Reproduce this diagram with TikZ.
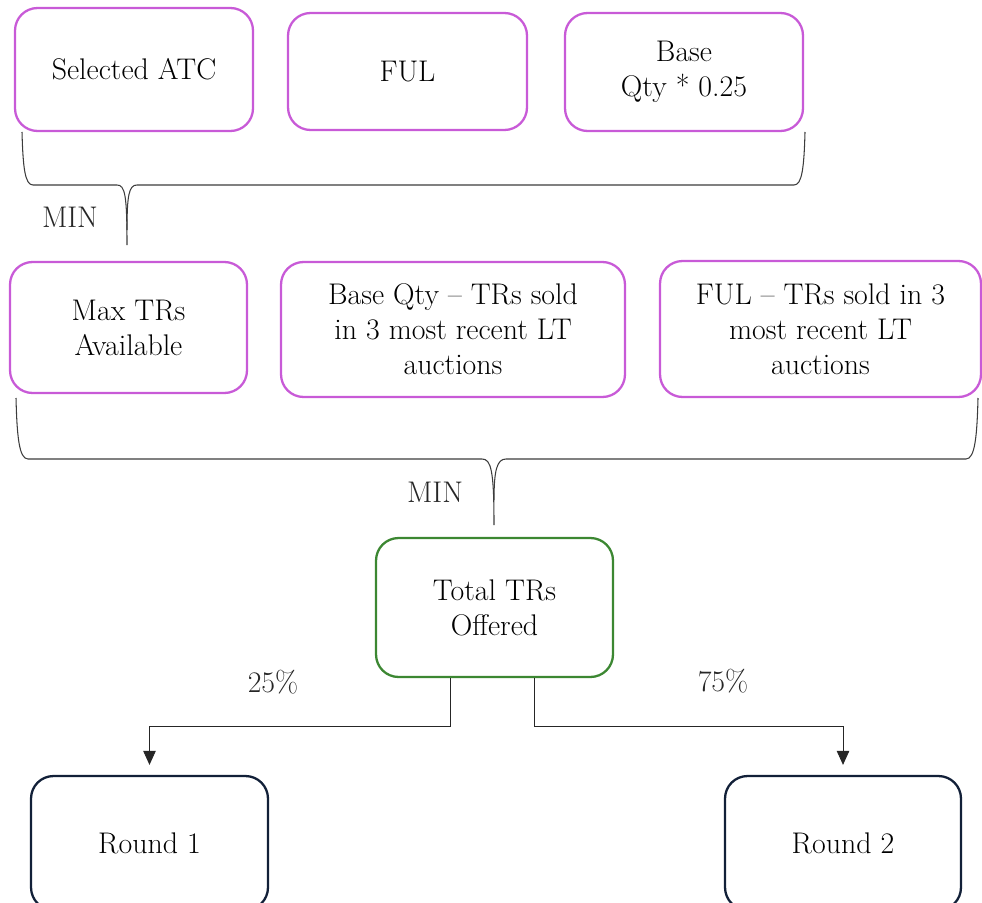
\documentclass[tikz,border=0pt]{standalone}
\usetikzlibrary{arrows.meta}
\definecolor{mvpink}{RGB}{200, 90, 215}
\definecolor{mvgreen}{RGB}{60, 135, 50}
\definecolor{mvnavy}{RGB}{18, 32, 56}
\definecolor{mvgray}{RGB}{60, 60, 60}
\begin{document}
\begin{tikzpicture}[x=0.02cm, y=-0.02cm,
    box/.style={rectangle, draw=mvpink, line width=1.3pt, rounded corners=0.45cm,
                font=\fontsize{17}{20}\selectfont, align=center, text=black, inner sep=2pt},
    greenbox/.style={box, draw=mvgreen},
    navybox/.style={box, draw=mvnavy},
    arrow/.style={-{Triangle[length=0.28cm, width=0.25cm]}, line width=0.5pt, color=black!85},
    brace/.style={line width=0.6pt, color=mvgray},
    lbl/.style={font=\fontsize{17}{20}\selectfont, text=black!85}
  ]
    \useasboundingbox (0,0) rectangle (982,902);
    \clip (0,0) rectangle (982,902);

    \node[box, minimum width=4.76cm, minimum height=2.46cm] (atc)  at (134,   69.5) {Selected ATC};
    \node[box, minimum width=4.78cm, minimum height=2.34cm] (ful)  at (407.5, 71.5) {FUL};
    \node[box, minimum width=4.76cm, minimum height=2.36cm] (base) at (684,   72)   {Base\\Qty * 0.25};

    \node[box, minimum width=4.74cm, minimum height=2.62cm] (maxtr)   at (128.5, 327.5) {Max TRs\\Available};
    \node[box, minimum width=6.88cm, minimum height=2.70cm] (baseqty) at (453,   329.5) {Base Qty – TRs sold\\in 3 most recent LT\\auctions};
    \node[box, minimum width=6.42cm, minimum height=2.72cm] (fulsold) at (820.5, 329)   {FUL – TRs sold in 3\\most recent LT\\auctions};

    \node[greenbox, minimum width=4.74cm, minimum height=2.78cm] (total) at (494.5, 607.5) {Total TRs\\Offered};

    \node[navybox, minimum width=4.74cm, minimum height=2.68cm] (round1) at (149.5, 843) {Round 1};
    \node[navybox, minimum width=4.72cm, minimum height=2.68cm] (round2) at (843,   843) {Round 2};

    % first MIN brace
    \draw[brace] (22,132) .. controls (23,168) and (25,185) .. (33,185) -- (117,185)
                 .. controls (125,185) and (127,195) .. (127,245);
    \draw[brace] (805,132) .. controls (804,168) and (802,185) .. (794,185) -- (137,185)
                 .. controls (129,185) and (127,195) .. (127,230);
    \node[lbl] (min1) at (70,217) {MIN};

    % second MIN brace
    \draw[brace] (16,398) .. controls (17,436) and (19,459) .. (28,459) -- (482,459)
                 .. controls (491,459) and (494,470) .. (494,525);
    \draw[brace] (978,398) .. controls (977,436) and (975,459) .. (966,459) -- (506,459)
                 .. controls (497,459) and (494,470) .. (494,500);
    \node[lbl] (min2) at (435,492) {MIN};

    \draw[arrow] ([xshift=-0.89cm]total.south) |- ([yshift=0.96cm]round1.north) -- ([yshift=0.2cm]round1.north);
    \draw[arrow] ([xshift=0.79cm]total.south)  |- ([yshift=0.96cm]round2.north) -- ([yshift=0.2cm]round2.north);
    \node[lbl] (pct1) at (273,682) {25\%};
    \node[lbl] (pct2) at (723,681) {75\%};
\end{tikzpicture}
\end{document}
